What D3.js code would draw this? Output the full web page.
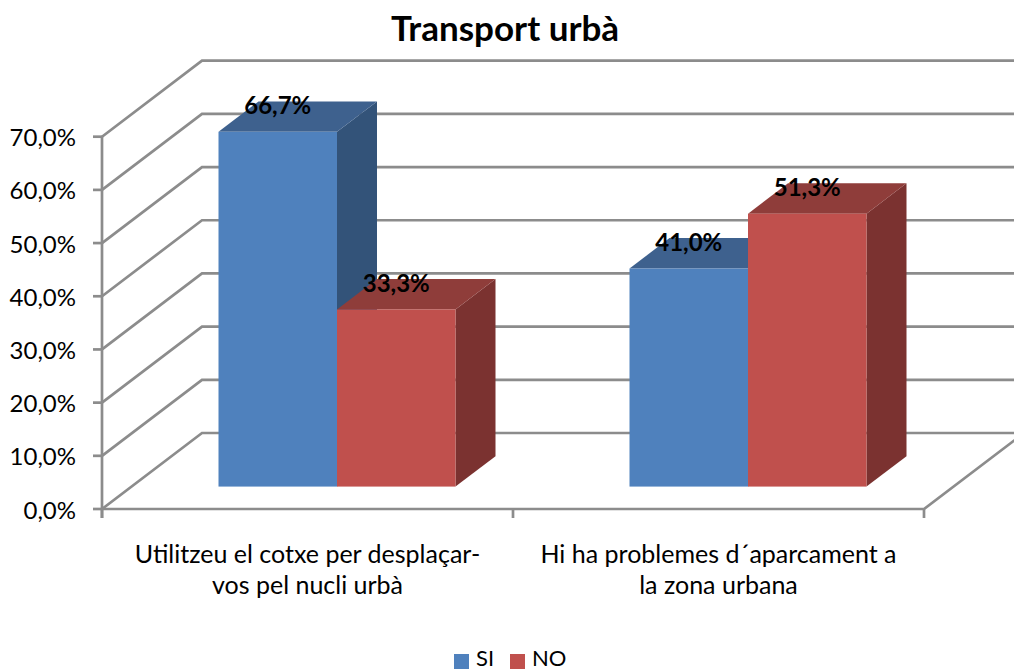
<!DOCTYPE html>
<html><head><meta charset="utf-8">
<script src="https://cdn.jsdelivr.net/npm/d3@7"></script>
<style>html,body{margin:0;padding:0;background:#fff;overflow:hidden}svg{display:block}text{font-family:Lato,"Open Sans",sans-serif;fill:#000}</style>
</head><body><svg id="c" width="1014" height="671"></svg>
<script>
const title = "Transport urbà";
const categories = ["Utilitzeu el cotxe per desplaçar-|vos pel nucli urbà", "Hi ha problemes d´aparcament a|la zona urbana"];
const seriesNames = ["SI", "NO"];
const siValues = [66.7, 41.0];
const noValues = [33.3, 51.3];
const seriesColors = ["#4f81bd", "#c0504d"];
const topColors = ["#3e618e", "#8f3d3a"];
const sideColors = ["#335379", "#7b3230"];
const yTicks = [0, 10, 20, 30, 40, 50, 60, 70];

const svg = d3.select("#c");
const grid = "#8c8c8c";
const sw = 2.7;
const fmt = v => v.toFixed(1).replace(".", ",") + "%";

const y = d3.scaleLinear().domain([0, 70]).range([509, 136.7]);
const x0 = d3.scaleBand().domain(d3.range(categories.length)).range([102, 924]);
const x1 = d3.scaleBand().domain(d3.range(seriesNames.length)).range([0, 237]);
const wall = {dx: 100, dy: -76};
const depth = {near: 0.295, far: 0.695};
const proj = (px, py, f) => [px + wall.dx * f, py + wall.dy * f];

yTicks.forEach(t => {
  const a = [102, y(t)], b = proj(102, y(t), 1), c = proj(924, y(t), 1);
  svg.append("path").attr("d", d3.line()([a, b, c])).attr("fill", "none").attr("stroke", grid).attr("stroke-width", sw);
});
svg.append("path").attr("d", d3.line()([[102, y(0)], [924, y(0)], proj(924, y(0), 1)])).attr("fill", "none").attr("stroke", grid).attr("stroke-width", sw);
svg.append("line").attr("x1", 102).attr("x2", 102).attr("y1", y(70)).attr("y2", 518).attr("stroke", grid).attr("stroke-width", sw);
yTicks.forEach(t => {
  svg.append("line").attr("x1", 93).attr("x2", 102).attr("y1", y(t)).attr("y2", y(t)).attr("stroke", grid).attr("stroke-width", sw);
  svg.append("text").attr("x", 76).attr("y", y(t) + 9.5).attr("text-anchor", "end").attr("font-size", 24).text(fmt(t));
});
[102, 513, 924].forEach(px => {
  svg.append("line").attr("x1", px).attr("x2", px).attr("y1", 509).attr("y2", 518).attr("stroke", grid).attr("stroke-width", sw);
});

const values = [siValues, noValues];
const labels = [];
categories.forEach((cat, i) => {
  const groupCentre = x0(i) + x0.bandwidth() / 2;
  const baseOffset = proj(0, 0, depth.near);
  seriesNames.forEach((s, j) => {
    const v = values[j][i];
    const xL = groupCentre - 118.5 + x1(j) + baseOffset[0];
    const xR = xL + x1.bandwidth();
    const yB = y(0) + baseOffset[1];
    const yT = y(v) + baseOffset[1];
    const d = depth.far - depth.near;
    const ox = wall.dx * d, oy = wall.dy * d;
    svg.append("polygon").attr("points", [[xR, yT], [xR + ox, yT + oy], [xR + ox, yB + oy], [xR, yB]].join(" ")).attr("fill", sideColors[j]);
    svg.append("polygon").attr("points", [[xL, yT], [xL + ox, yT + oy], [xR + ox, yT + oy], [xR, yT]].join(" ")).attr("fill", topColors[j]);
    svg.append("rect").attr("x", xL).attr("y", yT).attr("width", xR - xL).attr("height", yB - yT).attr("fill", seriesColors[j]);
    labels.push({x: (xL + xR) / 2, y: yT - 17.5, t: fmt(v)});
  });
});
labels.forEach(l => svg.append("text").attr("x", l.x).attr("y", l.y).attr("text-anchor", "middle").attr("font-size", 24).attr("font-weight", 700).text(l.t));

categories.forEach((cat, i) => {
  const cx = x0(i) + x0.bandwidth() / 2;
  cat.split("|").forEach((line, k) => {
    svg.append("text").attr("x", cx).attr("y", 563 + k * 31).attr("text-anchor", "middle").attr("font-size", 25).text(line);
  });
});

svg.append("text").attr("x", 505).attr("y", 41).attr("text-anchor", "middle").attr("font-size", 35).attr("font-weight", 700).text(title);

[454, 510].forEach((lx, j) => {
  svg.append("rect").attr("x", lx).attr("y", 654).attr("width", 15).attr("height", 15).attr("fill", seriesColors[j]);
  svg.append("text").attr("x", lx + 22).attr("y", 666).attr("font-size", 22).text(seriesNames[j]);
});
</script></body></html>
